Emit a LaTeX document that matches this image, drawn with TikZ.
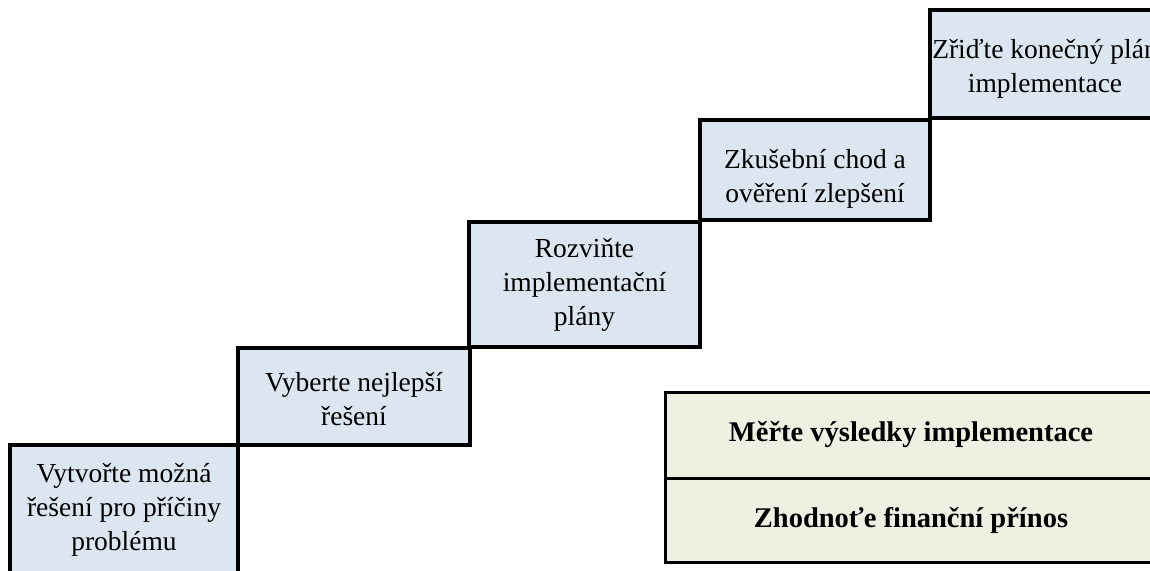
\documentclass[tikz,border=0pt]{standalone}
\usepackage{fontspec}
\setmainfont{Liberation Serif}
\definecolor{stepblue}{HTML}{DCE6F1}
\definecolor{olivepale}{HTML}{EEF0E2}
\begin{document}
\begin{tikzpicture}[x=1pt,y=-1pt,
  stepbox/.style={draw=black, line width=3.5pt, fill=stepblue, rectangle, inner sep=0pt,
    align=center, font=\fontsize{27.5}{34}\selectfont},
  resbox/.style={draw=black, line width=3pt, fill=olivepale, rectangle, inner sep=0pt,
    align=center, font=\fontsize{28.5}{34}\selectfont\bfseries,
    minimum width=492pt}]
\clip (0,0) rectangle (1150,570);
\fill[white] (0,0) rectangle (1150,570);
\node[stepbox, minimum width=228pt, minimum height=130pt] (s1) at (124,510)
  {Vytvořte možná\\řešení pro příčiny\\problému};
\node[stepbox, minimum width=232pt, minimum height=97pt] (s2) at (354,396.5)
  {\rule{0pt}{24pt}Vyberte nejlepší\\řešení};
\node[stepbox, minimum width=231pt, minimum height=125pt] (s3) at (584.5,284.5)
  {Rozviňte\\implementační\\plány};
\node[stepbox, minimum width=230pt, minimum height=100pt] (s4) at (815,170)
  {\rule{0pt}{36pt}Zkušební chod a\\ověření zlepšení};
\node[stepbox, minimum width=230pt, minimum height=108pt] (s5) at (1045,64)
  {\rule{0pt}{28pt}Zřiďte konečný plán\\implementace};
\node[resbox, minimum height=86pt] (r1) at (911,435) {Měřte výsledky implementace};
\node[resbox, minimum height=84pt] (r2) at (911,520) {Zhodnoťe finanční přínos};
\end{tikzpicture}
\end{document}
